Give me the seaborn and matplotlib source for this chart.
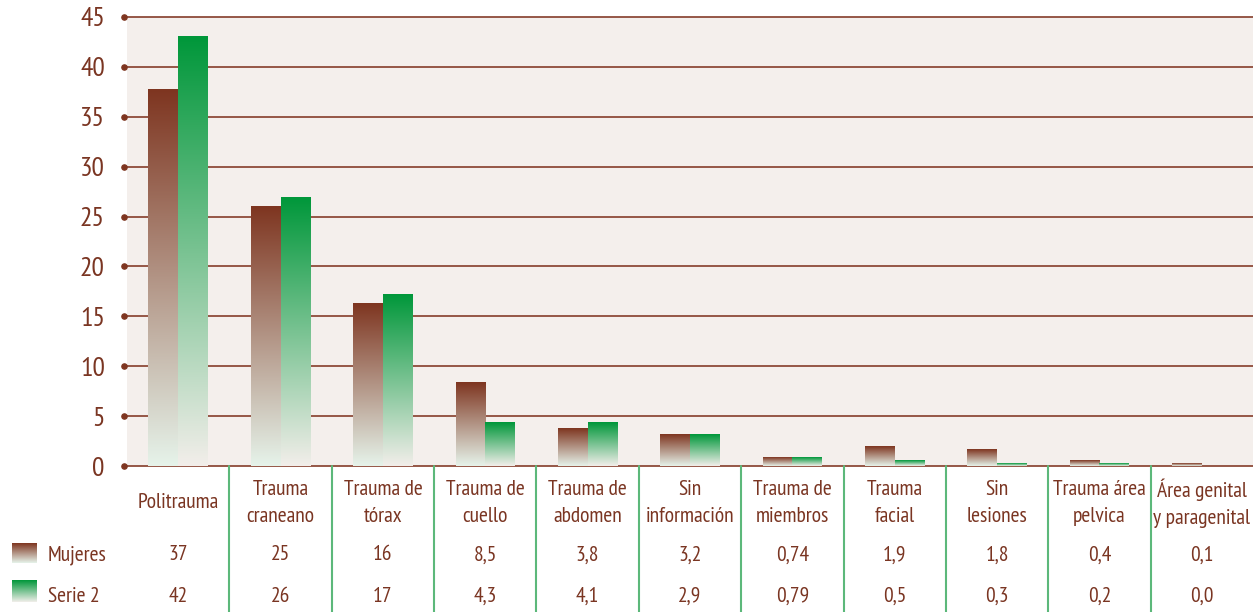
import numpy as np
import pandas as pd
import seaborn as sns
import matplotlib.pyplot as plt
import matplotlib.transforms as mtransforms
from matplotlib import font_manager
from matplotlib.colors import LinearSegmentedColormap

categories = ['Politrauma', 'Trauma\ncraneano', 'Trauma de\ntórax', 'Trauma de\ncuello',
              'Trauma de\nabdomen', 'Sin\ninformación', 'Trauma de\nmiembros', 'Trauma\nfacial',
              'Sin\nlesiones', 'Trauma área\npelvica', 'Área genital\ny paragenital']
series_names = ['Mujeres', 'Serie 2']
# bar heights
mujeres = [37.7, 26.0, 16.3, 8.4, 3.8, 3.2, 0.9, 2.0, 1.7, 0.6, 0.3]
serie2 = [43.0, 26.9, 17.2, 4.4, 4.4, 3.2, 0.9, 0.6, 0.3, 0.3, 0.0]
# values printed in the table under the chart
mujeres_labels = ['37', '25', '16', '8,5', '3,8', '3,2', '0,74', '1,9', '1,8', '0,4', '0,1']
serie2_labels = ['42', '26', '17', '4,3', '4,1', '2,9', '0,79', '0,5', '0,3', '0,2', '0,0']
y_ticks = [0, 5, 10, 15, 20, 25, 30, 35, 40, 45]

BROWN = '#7E3520'
GREEN = '#00973A'
TEXT = '#7A3522'
GRID = '#8E4B39'
BG = '#F4EFEC'
VLINE = '#5CB87A'

cmaps = {
    'Mujeres': LinearSegmentedColormap.from_list('brown_fade', ['#E6F3EA', BROWN]),
    'Serie 2': LinearSegmentedColormap.from_list('green_fade', ['#F2EEEA', GREEN]),
}
gradient = np.linspace(1, 0, 256).reshape(-1, 1)

sns.set_theme(style='white')
# a condensed face close to the original's narrow type
installed = {f.name for f in font_manager.fontManager.ttflist}
wanted = ['PT Sans Narrow', 'Fira Sans Condensed', 'Roboto Condensed', 'Asap Condensed',
          'Encode Sans Condensed', 'IBM Plex Sans Condensed', 'Open Sans Condensed']
main_font = next((f for f in wanted if f in installed), 'DejaVu Sans')
plt.rcParams['font.family'] = [main_font, 'DejaVu Sans']
plt.rcParams['font.weight'] = 500
FS = 15.5

df = pd.DataFrame({
    'categoria': categories * 2,
    'serie': [series_names[0]] * len(categories) + [series_names[1]] * len(categories),
    'valor': mujeres + serie2,
})

W, H = 1253, 612
fig = plt.figure(figsize=(W / 100, H / 100), dpi=100)
ax = fig.add_axes([127 / W, 146 / H, 1 - 127 / W, 449 / H])
ax.set_facecolor(BG)

sns.barplot(data=df, x='categoria', y='valor', hue='serie', order=categories,
            hue_order=series_names, palette=[BROWN, GREEN], saturation=1,
            width=0.58, legend=False, ax=ax)

# replace flat bars by vertical gradients, one per bar
for name, container in zip(series_names, ax.containers):
    for patch in container:
        h = patch.get_height()
        patch.set_visible(False)
        if h <= 0:
            continue
        x0 = patch.get_x()
        ax.imshow(gradient, cmap=cmaps[name], aspect='auto', origin='upper',
                  extent=[x0, x0 + patch.get_width(), 0, h], zorder=3)

ax.set_xlim(-0.5, len(categories) - 0.5)
ax.set_ylim(0, 45)
for s in ax.spines.values():
    s.set_visible(False)

ax.set_xticks([])
ax.set_xlabel('')
ax.set_ylabel('')
ax.set_yticks(y_ticks)
ax.set_yticklabels([str(t) for t in y_ticks], fontsize=20, color=TEXT)
ax.tick_params(axis='y', length=0, pad=16)
ax.yaxis.grid(True, color=GRID, lw=1.3)
ax.set_axisbelow(True)
for line in ax.get_ygridlines():
    line.set_clip_on(False)

# small dots on the y axis
ytrans = mtransforms.blended_transform_factory(ax.transAxes, ax.transData)
ax.scatter([-3 / 1126] * len(y_ticks), y_ticks, s=14, color=BROWN,
           transform=ytrans, clip_on=False, zorder=4)

# data table under the chart
ttrans = mtransforms.blended_transform_factory(ax.transData, fig.transFigure)
for i, cat in enumerate(categories):
    ax.text(i, 1 - 503 / H, cat, transform=ttrans, ha='center', va='center',
            fontsize=FS, color=TEXT, linespacing=1.55)
    ax.text(i, 1 - 555 / H, mujeres_labels[i], transform=ttrans, ha='center',
            va='center', fontsize=FS, color=TEXT)
    ax.text(i, 1 - 596 / H, serie2_labels[i], transform=ttrans, ha='center',
            va='center', fontsize=FS, color=TEXT)
for i in range(len(categories) - 1):
    ax.plot([i + 0.5, i + 0.5], [146 / H, 0], transform=ttrans, color=VLINE,
            lw=1.5, clip_on=False)

# legend swatches in the table
for name, top, bottom, ty in [('Mujeres', 543, 563, 555), ('Serie 2', 580, 602, 596)]:
    sw = fig.add_axes([12 / W, 1 - bottom / H, 25 / W, (bottom - top) / H])
    sw.imshow(gradient, cmap=cmaps[name], aspect='auto')
    sw.axis('off')
    fig.text(48 / W, 1 - ty / H, name, ha='left', va='center', fontsize=FS, color=TEXT)

fig.savefig('out.png', dpi=100, facecolor='white')
